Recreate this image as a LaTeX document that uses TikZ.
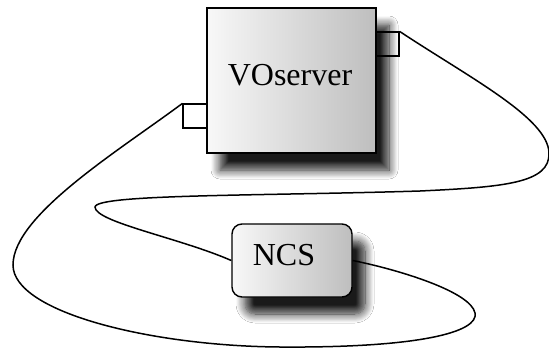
\documentclass[tikz,border=0pt]{standalone}
\usepackage{fontspec}
\setmainfont{Liberation Serif}
\newfontfamily\labelfont{Liberation Serif}
\usetikzlibrary{shadows.blur}
\definecolor{boxlight}{HTML}{F8F8F8}
\definecolor{boxdark}{HTML}{BEBEBE}
\tikzset{
  comp/.style={draw=black, line width=1.4pt, inner sep=0pt,
    left color=boxlight, right color=boxdark,
    blur shadow={shadow xshift=13pt, shadow yshift=-17pt,
      shadow blur radius=9pt, shadow blur steps=12, shadow opacity=90}},
  port/.style={draw=black, line width=1.2pt, inner sep=0pt},
  lbl/.style={font=\labelfont\fontsize{32}{36}\selectfont, inner sep=0pt, anchor=base},
  wire/.style={draw=black, line width=1.5pt}
}
\begin{document}
\begin{tikzpicture}[x=1pt, y=-1pt]
\useasboundingbox (0,0) rectangle (549,354);
\fill[white] (0,0) rectangle (549,354);

% components
\node[comp, minimum width=169pt, minimum height=145pt] (vo) at (291.5,80.5) {};
\node[comp, rounded corners=10pt, minimum width=120pt, minimum height=73pt] (ncs) at (292,260.5) {};
\node[lbl] (volbl) at (290,85) {VOserver};
\node[lbl] (ncslbl) at (284,265) {NCS};

% ports on the server
\node[port, minimum width=23pt, minimum height=24pt] (pr) at (387.5,44) {};
\node[port, minimum width=24pt, minimum height=24pt] (pl) at (195,116) {};

% connections
\path[wire] (pr.north east)
  .. controls (470,78) and (548,118) .. (549,153)
  .. controls (550,183) and (505,187) .. (420,191)
  .. controls (260,196) and (96,194) .. (95,207)
  .. controls (95,222) and (180,238) .. (ncs.west);
\path[wire] (pl.north west)
  .. controls (120,150) and (13,215) .. (13,265)
  .. controls (13,312) and (150,346) .. (280,347)
  .. controls (420,348) and (479,332) .. (475,313)
  .. controls (471,292) and (400,270) .. (ncs.east);
\end{tikzpicture}
\end{document}
